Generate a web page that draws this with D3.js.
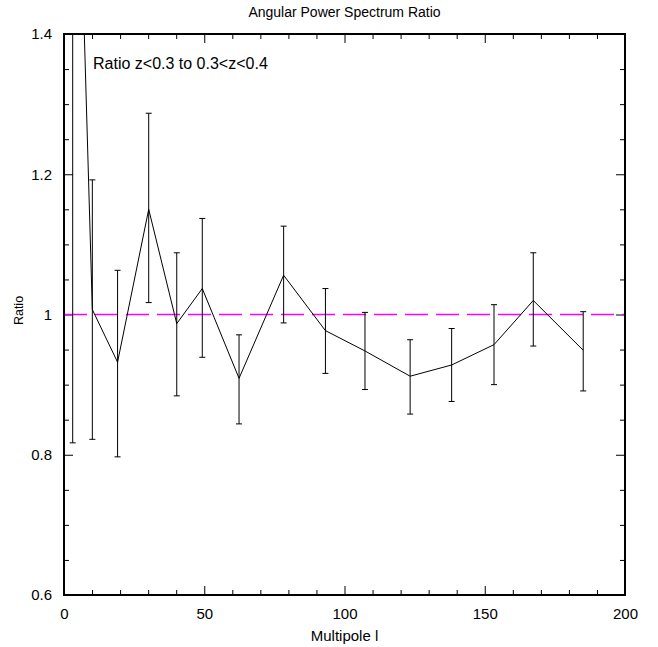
<!DOCTYPE html>
<html><head><meta charset="utf-8">
<script src="https://cdn.jsdelivr.net/npm/d3@7"></script>
<style>
html,body{margin:0;padding:0;background:#fff;}
text{font-family:"Liberation Sans",Arial,sans-serif;fill:#000;}
</style></head>
<body><svg id="c" width="658" height="647"></svg>
<script>
// Data
const multipole = [3.1, 10.1, 19.1, 30.2, 40.2, 49.3, 62.4, 78.3, 93.2, 107.3, 123.4, 138.2, 153.3, 167.3, 185.1];
const ratio     = [1.97, 1.007, 0.932, 1.150, 0.987, 1.037, 0.909, 1.056, 0.977, 0.948, 0.912, 0.928, 0.957, 1.020, 0.949];
const errLow    = [0.817, 0.822, 0.797, 1.017, 0.884, 0.939, 0.844, 0.988, 0.916, 0.893, 0.858, 0.876, 0.900, 0.955, 0.891];
const errHigh   = [3.12, 1.192, 1.063, 1.287, 1.088, 1.137, 0.971, 1.126, 1.037, 1.003, 0.964, 0.980, 1.014, 1.088, 1.004];
const xTicks = [0, 50, 100, 150, 200];
const yTicks = [0.6, 0.8, 1.0, 1.2, 1.4];
const yTickLabels = ["0.6", "0.8", "1", "1.2", "1.4"];
const referenceLevel = 1.0;
const title = "Angular Power Spectrum Ratio";
const xLabel = "Multipole l";
const yLabel = "Ratio";
const annotation = "Ratio z<0.3 to 0.3<z<0.4";

const svg = d3.select("#c");
const L = 64, R = 625, T = 34, B = 595;
const x = d3.scaleLinear().domain([0, 200]).range([L, R]);
const y = d3.scaleLinear().domain([0.6, 1.4]).range([B, T]);

svg.append("defs").append("clipPath").attr("id", "clip")
  .append("rect").attr("x", L).attr("y", T).attr("width", R - L).attr("height", B - T);

const fmtY = d => yTickLabels[yTicks.findIndex(v => Math.abs(v - d) < 1e-9)];
const major = 9, minor = 5;
function addAxis(axisGen, tx, ty) {
  const g = svg.append("g").attr("transform", `translate(${tx},${ty})`).call(axisGen);
  g.select(".domain").remove();
  g.selectAll("line").attr("stroke", "#000").attr("stroke-width", 1);
  return g;
}
const xMinor = d3.range(0, 201, 10).filter(v => v % 50 !== 0);
const yMinor = d3.range(0.6, 1.4001, 0.05).filter(v => Math.abs(v * 5 - Math.round(v * 5)) > 1e-6);

// bottom
const gxb = addAxis(d3.axisBottom(x).tickValues(xTicks).tickSizeInner(-major).tickSizeOuter(0).tickPadding(13).tickFormat(d3.format("d")), 0, B);
gxb.selectAll("text").attr("font-size", 15).attr("font-family", "Liberation Sans, Arial, sans-serif");
addAxis(d3.axisBottom(x).tickValues(xMinor).tickSizeInner(-minor).tickSizeOuter(0).tickFormat(""), 0, B);
// top
addAxis(d3.axisTop(x).tickValues(xTicks).tickSizeInner(-major).tickSizeOuter(0).tickFormat(""), 0, T);
addAxis(d3.axisTop(x).tickValues(xMinor).tickSizeInner(-minor).tickSizeOuter(0).tickFormat(""), 0, T);
// left
const gyl = addAxis(d3.axisLeft(y).tickValues(yTicks).tickSizeInner(-major).tickSizeOuter(0).tickPadding(12).tickFormat(fmtY), L, 0);
gyl.selectAll("text").attr("font-size", 15).attr("font-family", "Liberation Sans, Arial, sans-serif");
addAxis(d3.axisLeft(y).tickValues(yMinor).tickSizeInner(-minor).tickSizeOuter(0).tickFormat(""), L, 0);
// right
addAxis(d3.axisRight(y).tickValues(yTicks).tickSizeInner(-major).tickSizeOuter(0).tickFormat(""), R, 0);
addAxis(d3.axisRight(y).tickValues(yMinor).tickSizeInner(-minor).tickSizeOuter(0).tickFormat(""), R, 0);

// Reference dashed line
svg.append("line")
  .attr("x1", x(0)).attr("x2", x(200)).attr("y1", y(referenceLevel)).attr("y2", y(referenceLevel))
  .attr("stroke", "#ff00ff").attr("stroke-width", 1.3).attr("stroke-dasharray", "23,8");

const plot = svg.append("g").attr("clip-path", "url(#clip)");
const pts = multipole.map((m, i) => ({m, r: ratio[i], lo: errLow[i], hi: errHigh[i]}));

// Error bars
const cap = 3;
const eb = plot.selectAll("g.eb").data(pts).join("g").attr("class", "eb");
eb.append("line").attr("x1", d => x(d.m)).attr("x2", d => x(d.m))
  .attr("y1", d => y(d.lo)).attr("y2", d => y(d.hi)).attr("stroke", "#000").attr("stroke-width", 1);
eb.append("line").attr("x1", d => x(d.m) - cap).attr("x2", d => x(d.m) + cap)
  .attr("y1", d => y(d.lo)).attr("y2", d => y(d.lo)).attr("stroke", "#000").attr("stroke-width", 1);
eb.append("line").attr("x1", d => x(d.m) - cap).attr("x2", d => x(d.m) + cap)
  .attr("y1", d => y(d.hi)).attr("y2", d => y(d.hi)).attr("stroke", "#000").attr("stroke-width", 1);

// Line
plot.append("path").datum(pts)
  .attr("d", d3.line().x(d => x(d.m)).y(d => y(d.r)))
  .attr("fill", "none").attr("stroke", "#000").attr("stroke-width", 1);

// Frame
svg.append("rect").attr("x", L).attr("y", T).attr("width", R - L).attr("height", B - T)
  .attr("fill", "none").attr("stroke", "#000").attr("stroke-width", 2);

// Texts
svg.append("text").attr("x", (L + R) / 2).attr("y", 17).attr("text-anchor", "middle")
  .attr("font-size", 14).text(title);
svg.append("text").attr("x", (L + R) / 2).attr("y", 641).attr("text-anchor", "middle")
  .attr("font-size", 15).text(xLabel);
svg.append("text").attr("transform", `translate(23,${(T + B) / 2 - 4}) rotate(-90)`).attr("text-anchor", "middle")
  .attr("font-size", 12.5).text(yLabel);
svg.append("text").attr("x", 93).attr("y", 69).attr("font-size", 16).text(annotation);
</script>
</body></html>
